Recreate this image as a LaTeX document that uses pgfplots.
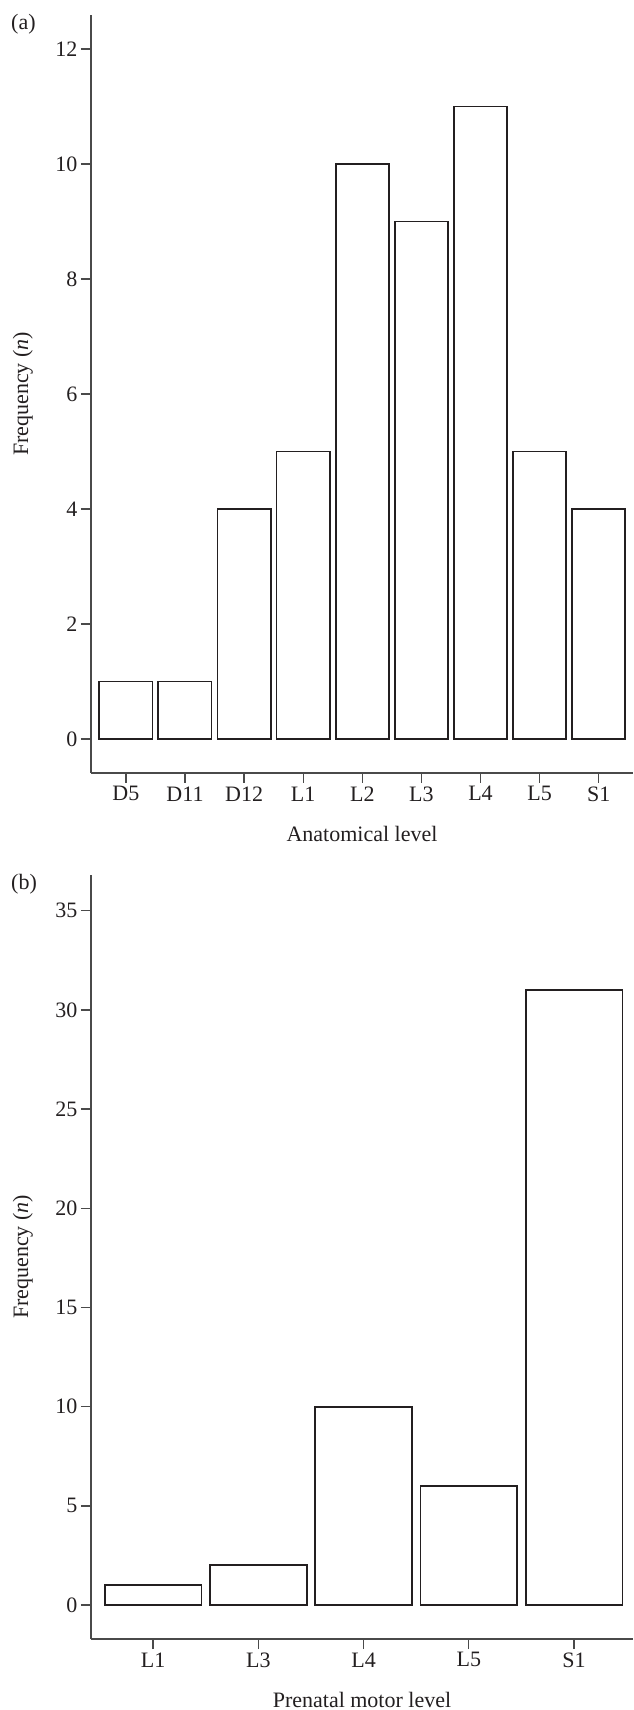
\documentclass[border=0pt]{standalone}
\usepackage{fontspec}
\setmainfont{Liberation Serif}
\usepackage{pgfplots}
\pgfplotsset{compat=1.18}
\definecolor{ink}{HTML}{231F20}
\definecolor{axisgray}{HTML}{4A4A4A}
\newcommand{\bigfont}{\fontsize{22}{26}\selectfont}
\pgfplotsset{
  panel/.style={
    scale only axis, width=542pt,
    anchor=south west,
    axis x line*=bottom, axis y line*=left,
    axis line style={line width=1.5pt, color=axisgray, -},
    tick align=outside, major tick length=10pt,
    every tick/.style={line width=1.3pt, color=axisgray},
    xtick=data,
    tick label style={font=\bigfont, text=ink},
    label style={font=\bigfont, text=ink},
    /pgf/number format/assume math mode=true,
    ylabel={Frequency (\textit{n})},
    ylabel style={at={(axis description cs:-0.107,0.5)}, anchor=south, inner sep=0pt},
    xlabel style={at={(axis description cs:0.5,0)}, anchor=north, inner sep=0pt, yshift=-53pt},
    clip=false,
  }
}
\begin{document}
\begin{tikzpicture}
\useasboundingbox (0pt,0pt) rectangle (633pt,1710pt);
\begin{axis}[panel, at={(91pt,937pt)}, height=758pt,
  xmin=-0.59, xmax=8.58, ymin=-0.59, ymax=12.59,
  ytick={0,2,...,12},
  xticklabels={D5,D11,D12,L1,L2,L3,L4,L5,S1},
  xlabel={Anatomical level}]
\addplot[ybar, bar width=0.9, draw=ink, line width=1.8pt, fill=white]
  coordinates {(0,1) (1,1) (2,4) (3,5) (4,10) (5,9) (6,11) (7,5) (8,4)};
\end{axis}
\begin{axis}[panel, at={(91pt,71pt)}, height=764pt,
  xmin=-0.59, xmax=4.56, ymin=-1.71, ymax=36.8,
  ytick={0,5,...,35},
  xticklabels={L1,L3,L4,L5,S1},
  xlabel={Prenatal motor level}]
\addplot[ybar, bar width=0.92, draw=ink, line width=1.8pt, fill=white]
  coordinates {(0,1) (1,2) (2,10) (3,6) (4,31)};
\end{axis}
\node[anchor=north west, inner sep=0pt, font=\bigfont, text=ink] at (11pt,1696pt) {(a)};
\node[anchor=north west, inner sep=0pt, font=\bigfont, text=ink] at (11pt,836pt) {(b)};
\end{tikzpicture}
\end{document}
